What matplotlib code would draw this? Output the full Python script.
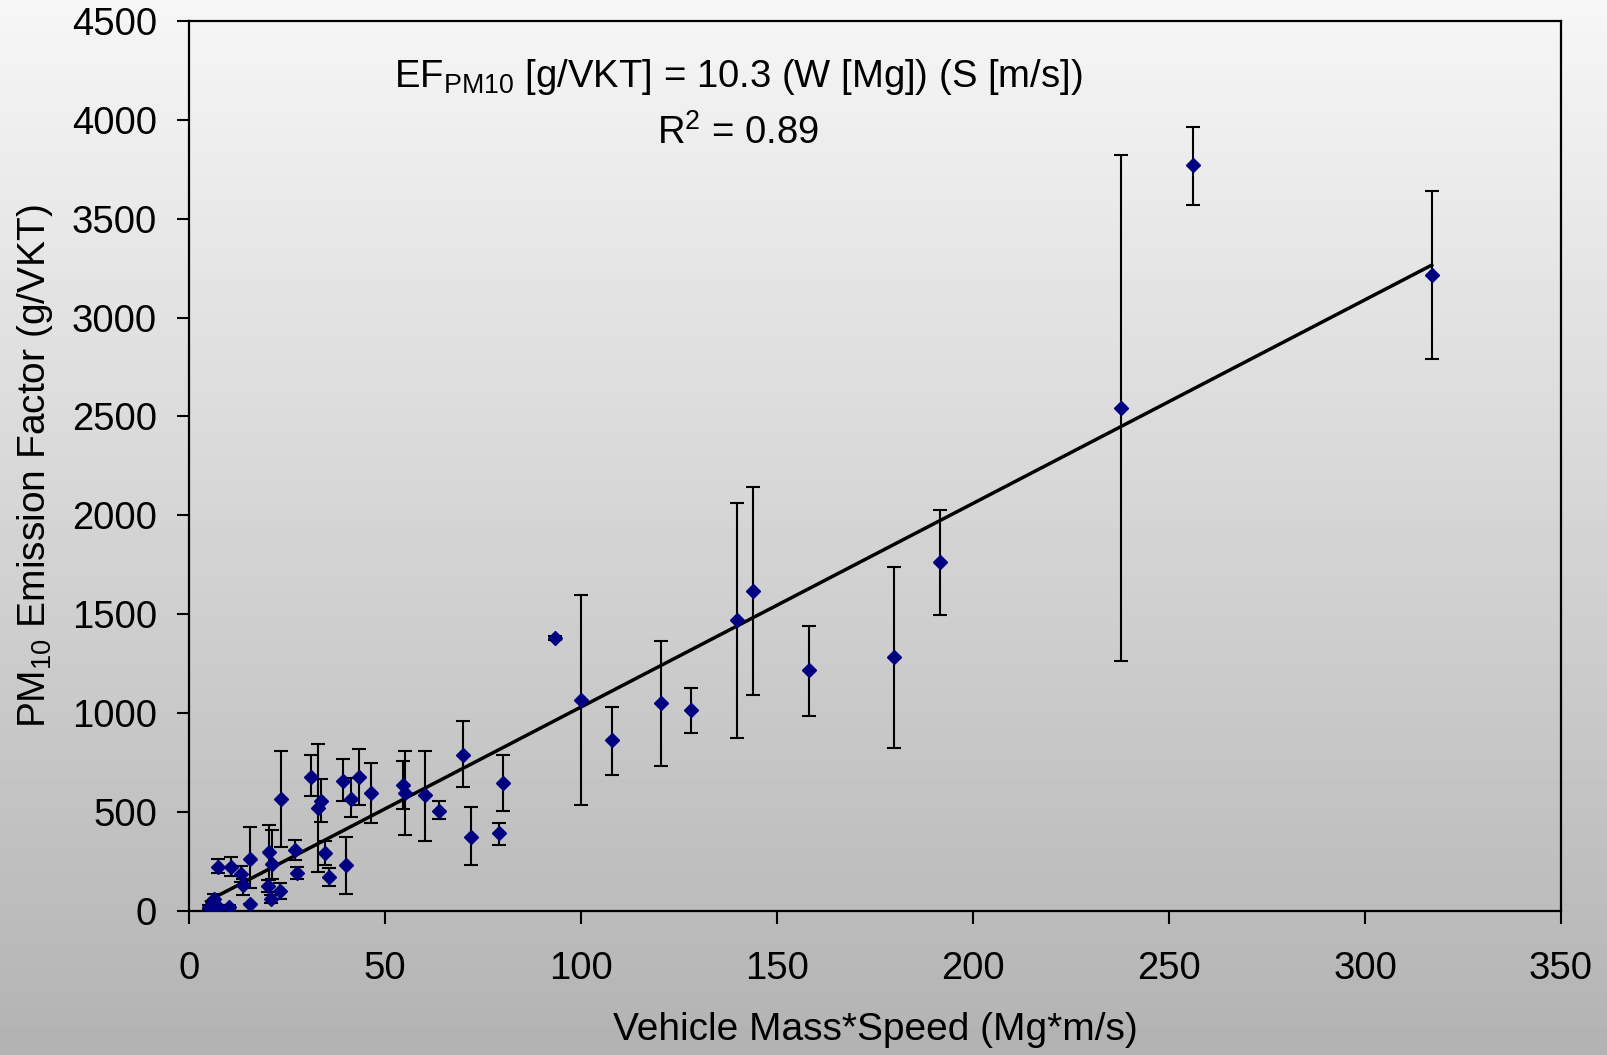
import numpy as np
import matplotlib
matplotlib.use("Agg")
from matplotlib import pyplot as plt

plt.rcParams["font.family"] = ["Liberation Sans", "DejaVu Sans"]
plt.rcParams["mathtext.fontset"] = "custom"
plt.rcParams["mathtext.rm"] = "Liberation Sans"
plt.rcParams["mathtext.it"] = "Liberation Sans:italic"

# measured points: vehicle mass*speed (Mg*m/s), PM10 emission factor (g/VKT)
mass_speed = [5.1, 6.4, 7.5, 10.3, 7.5, 10.6, 13.3, 13.9, 15.6, 15.6,
              20.4, 21.3, 20.2, 21.0, 23.2, 23.5, 27.1, 27.6, 31.1, 32.8,
              33.7, 34.7, 35.7, 40.0, 39.3, 41.3, 43.4, 46.5, 54.7, 55.1,
              60.3, 63.8, 69.9, 71.9, 80.1, 79.1, 93.3, 100.1, 108.0, 120.5,
              128.1, 139.9, 143.8, 158.2, 179.9, 191.7, 237.7, 256.0, 317.0]
emission = [20, 60, 18, 20, 223, 223, 184, 128, 263, 32,
            295, 238, 126, 59, 101, 566, 307, 192, 678, 518,
            556, 293, 172, 231, 658, 566, 678, 597, 636, 597,
            585, 506, 788, 374, 647, 391, 1377, 1066, 863, 1050,
            1014, 1470, 1615, 1216, 1283, 1766, 2543, 3772, 3217]
err_low = [10, 25, 10, 10, 30, 50, 40, 50, 150, 0,
           140, 80, 30, 20, 40, 242, 50, 30, 100, 324,
           110, 60, 45, 148, 102, 91, 143, 152, 122, 214,
           231, 42, 161, 143, 141, 59, 10, 529, 176, 316,
           114, 596, 523, 233, 461, 270, 1280, 202, 425]
err_high = [10, 25, 10, 10, 40, 50, 40, 30, 160, 0,
            140, 170, 30, 20, 40, 242, 50, 30, 110, 324,
            110, 60, 45, 143, 109, 104, 140, 152, 123, 212,
            224, 50, 172, 152, 141, 54, 10, 531, 167, 314,
            110, 591, 529, 223, 457, 259, 1281, 191, 425]

# regression EF = 10.3 * W * S
fit_slope = 10.3
fit_x = np.array([4.5, 317.0])

x_ticks = [0, 50, 100, 150, 200, 250, 300, 350]
y_ticks = [0, 500, 1000, 1500, 2000, 2500, 3000, 3500, 4000, 4500]

fig = plt.figure(figsize=(16.07, 10.55), dpi=100)

# grey vertical gradient background
bg = fig.add_axes([0, 0, 1, 1], zorder=-1)
grad = np.linspace(0.965, 0.70, 256).reshape(-1, 1)
bg.imshow(grad, aspect="auto", cmap="gray", vmin=0, vmax=1, extent=[0, 1, 0, 1])
bg.set_axis_off()

ax = fig.add_axes([0.1176, 0.1368, 0.8538, 0.8433])
ax.set_facecolor("none")

ax.plot(fit_x, fit_slope * fit_x, color="black", lw=2.5, zorder=2)
ax.errorbar(mass_speed, emission, yerr=[err_low, err_high], fmt="D",
            color="#000080", markersize=7, ecolor="black", elinewidth=1.5,
            capsize=5, capthick=1.5, zorder=3)

ax.set_xlim(0, 350)
ax.set_ylim(0, 4500)
ax.set_xticks(x_ticks)
ax.set_yticks(y_ticks)
ax.tick_params(direction="out", length=9, width=1.5, labelsize=27.5)
ax.tick_params(axis="x", pad=20)
ax.tick_params(axis="y", pad=14)
for s in ax.spines.values():
    s.set_linewidth(1.6)

ax.set_xlabel("Vehicle Mass*Speed (Mg*m/s)", fontsize=28, labelpad=18)
ax.set_ylabel(r"PM$_{\mathregular{10}}$ Emission Factor (g/VKT)", fontsize=28, labelpad=12)

ax.text(0.40, 0.937, r"EF$_{\mathregular{PM10}}$ [g/VKT] = 10.3 (W [Mg]) (S [m/s])",
        transform=ax.transAxes, ha="center", va="center", fontsize=27.5)
ax.text(0.40, 0.874, r"R$^{\mathregular{2}}$ = 0.89",
        transform=ax.transAxes, ha="center", va="center", fontsize=27.5)

fig.savefig("out.png", dpi=100)
